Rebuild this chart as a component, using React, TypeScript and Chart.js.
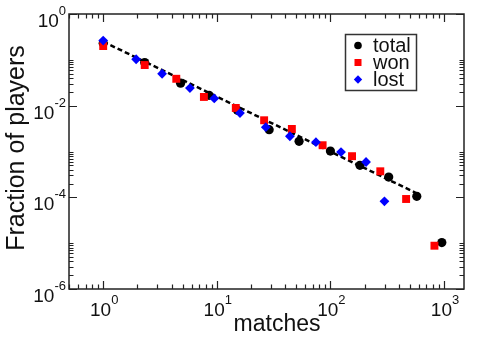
import React, { useEffect, useRef } from "react";
import { Chart, registerables } from "chart.js";

Chart.register(...registerables);

// ---- data ----
const totalX = [1, 2.32, 4.8, 8.55, 15.2, 28.9, 53, 100, 182, 326, 576, 957];
const totalY = [0.23, 0.087, 0.031, 0.0168, 0.0079, 0.003, 0.00167, 0.00102, 0.0005, 0.000277, 0.000105, 1.03e-5];
const wonX = [1, 2.32, 4.4, 7.7, 14.7, 26.1, 45.8, 85.4, 155, 275, 464, 824];
const wonY = [0.2, 0.077, 0.0386, 0.0155, 0.0089, 0.0048, 0.0031, 0.00137, 0.00079, 0.00037, 9.2e-5, 8.8e-6];
const lostX = [1, 1.95, 3.3, 5.8, 9.5, 16, 27, 44, 74.6, 124, 206, 299];
const lostY = [0.263, 0.103, 0.0497, 0.0242, 0.0144, 0.0069, 0.0034, 0.00215, 0.0016, 0.00097, 0.00059, 8.2e-5];
const fitX = [1, 580];
const fitY = [0.25, 1.21e-4];

const xTickExponents = [0, 1, 2, 3];
const yTickExponents = [0, -2, -4, -6];
const legendLabels = ["total", "won", "lost"];
const xTitle = "matches";
const yTitle = "Fraction of players";

const X_MIN = 0.5;
const X_MAX = 1500;
const Y_MIN = 1e-6;
const Y_MAX = 1;

const FONT = '"Liberation Sans", Arial, sans-serif';
const AXIS_COLOR = "#222";

const toPoints = (xs: number[], ys: number[]) => xs.map((x, i) => ({ x, y: ys[i] }));

function drawPow(ctx: CanvasRenderingContext2D, exp: number, x: number, baseline: number, align: "right" | "center") {
  const baseFont = `19px ${FONT}`;
  const supFont = `13px ${FONT}`;
  ctx.font = baseFont;
  const wBase = ctx.measureText("10").width;
  ctx.font = supFont;
  const supText = String(exp);
  const wSup = ctx.measureText(supText).width;
  const total = wBase + wSup;
  const start = align === "right" ? x - total : x - total / 2;
  ctx.textAlign = "left";
  ctx.textBaseline = "alphabetic";
  ctx.font = baseFont;
  ctx.fillText("10", start, baseline);
  ctx.font = supFont;
  ctx.fillText(supText, start + wBase, baseline - 12);
}

const framePlugin = {
  id: "frame",
  afterDatasetsDraw(chart: any) {
    const { ctx, chartArea: a, scales } = chart;
    const xs = scales.x;
    const ys = scales.y;
    ctx.save();
    ctx.strokeStyle = AXIS_COLOR;
    ctx.lineWidth = 1.5;
    ctx.strokeRect(a.left, a.top, a.right - a.left, a.bottom - a.top);

    ctx.lineWidth = 1.2;
    ctx.beginPath();
    // x ticks (every decade major, 2..9 minor)
    for (let d = -1; d <= 3; d++) {
      for (let k = 1; k <= 9; k++) {
        const v = k * Math.pow(10, d);
        if (v < X_MIN - 1e-9 || v > X_MAX) continue;
        const len = k === 1 ? 8 : 4.5;
        const px = Math.round(xs.getPixelForValue(v)) + 0.5;
        ctx.moveTo(px, a.bottom);
        ctx.lineTo(px, a.bottom - len);
        ctx.moveTo(px, a.top);
        ctx.lineTo(px, a.top + len);
      }
    }
    // y ticks: majors every 2 decades, minors k*10^e for k=2..10
    for (const e of yTickExponents) {
      const v = Math.pow(10, e);
      const py = Math.round(ys.getPixelForValue(v)) + 0.5;
      ctx.moveTo(a.left, py);
      ctx.lineTo(a.left + 8, py);
      ctx.moveTo(a.right, py);
      ctx.lineTo(a.right - 8, py);
      if (e > -6) {
        for (let k = 2; k <= 10; k++) {
          const mv = k * Math.pow(10, e - 2);
          const my = Math.round(ys.getPixelForValue(mv)) + 0.5;
          ctx.moveTo(a.left, my);
          ctx.lineTo(a.left + 4.5, my);
          ctx.moveTo(a.right, my);
          ctx.lineTo(a.right - 4.5, my);
        }
      }
    }
    ctx.stroke();

    // tick labels
    ctx.fillStyle = "#111";
    for (const e of xTickExponents) {
      const px = xs.getPixelForValue(Math.pow(10, e));
      drawPow(ctx, e, px + 1, a.bottom + 27, "center");
    }
    for (const e of yTickExponents) {
      const py = ys.getPixelForValue(Math.pow(10, e));
      drawPow(ctx, e, a.left - 3, py + 13, "right");
    }

    // axis titles
    ctx.fillStyle = "#111";
    ctx.font = `23px ${FONT}`;
    ctx.textAlign = "center";
    ctx.textBaseline = "alphabetic";
    ctx.fillText(xTitle, 277, 331);

    ctx.save();
    ctx.translate(23.5, 148);
    ctx.rotate(-Math.PI / 2);
    ctx.font = `25px ${FONT}`;
    ctx.fillText(yTitle, 0, 0);
    ctx.restore();

    // legend
    ctx.strokeStyle = "#333";
    ctx.lineWidth = 1.5;
    ctx.strokeRect(345.5, 34.5, 71, 56);
    const rows = [45.5, 62.5, 79.5];
    const mx = 358;
    ctx.font = `20px ${FONT}`;
    ctx.textAlign = "left";
    ctx.textBaseline = "middle";
    // total: circle
    ctx.fillStyle = "#000";
    ctx.beginPath();
    ctx.arc(mx, rows[0], 3.8, 0, Math.PI * 2);
    ctx.fill();
    // won: square
    ctx.fillStyle = "#ff0000";
    ctx.fillRect(mx - 3.5, rows[1] - 3.5, 7, 7);
    // lost: diamond
    ctx.fillStyle = "#0000ff";
    ctx.beginPath();
    ctx.moveTo(mx - 4.2, rows[2]);
    ctx.lineTo(mx, rows[2] - 4.2);
    ctx.lineTo(mx + 4.2, rows[2]);
    ctx.lineTo(mx, rows[2] + 4.2);
    ctx.closePath();
    ctx.fill();
    ctx.fillStyle = "#111";
    legendLabels.forEach((t, i) => ctx.fillText(t, 373, rows[i] + 1));
    ctx.restore();
  },
};

export default function App() {
  const ref = useRef<HTMLCanvasElement | null>(null);
  useEffect(() => {
    if (!ref.current) return;
    const chart = new Chart(ref.current, {
      type: "scatter",
      data: {
        datasets: [
          {
            label: "lost",
            data: toPoints(lostX, lostY),
            pointStyle: "rectRot",
            pointRadius: 4.9,
            backgroundColor: "#0000ff",
            borderWidth: 0,
            order: 0,
          },
          {
            label: "won",
            data: toPoints(wonX, wonY),
            pointStyle: "rect",
            pointRadius: 5.6,
            backgroundColor: "#ff0000",
            borderWidth: 0,
            order: 1,
          },
          {
            label: "total",
            data: toPoints(totalX, totalY),
            pointStyle: "circle",
            pointRadius: 4.6,
            backgroundColor: "#000000",
            borderWidth: 0,
            order: 2,
          },
          {
            label: "fit",
            data: toPoints(fitX, fitY),
            showLine: true,
            pointRadius: 0,
            borderColor: "#000000",
            borderWidth: 2.5,
            borderDash: [5, 3],
            fill: false,
            order: 3,
          } as any,
        ],
      },
      options: {
        animation: false,
        responsive: false,
        events: [],
        layout: { padding: { left: 69, right: 36, top: 14, bottom: 53 } },
        plugins: { legend: { display: false }, tooltip: { enabled: false } },
        scales: {
          x: { type: "logarithmic", min: X_MIN, max: X_MAX, display: false, bounds: "data" },
          y: { type: "logarithmic", min: Y_MIN, max: Y_MAX, display: false, bounds: "data" },
        },
      },
      plugins: [framePlugin],
    });
    return () => chart.destroy();
  }, []);
  return (
    <div style={{ position: "absolute", left: 0, top: 0, width: 500, height: 342, background: "#fff" }}>
      <canvas ref={ref} width={500} height={342} style={{ display: "block" }} />
    </div>
  );
}
